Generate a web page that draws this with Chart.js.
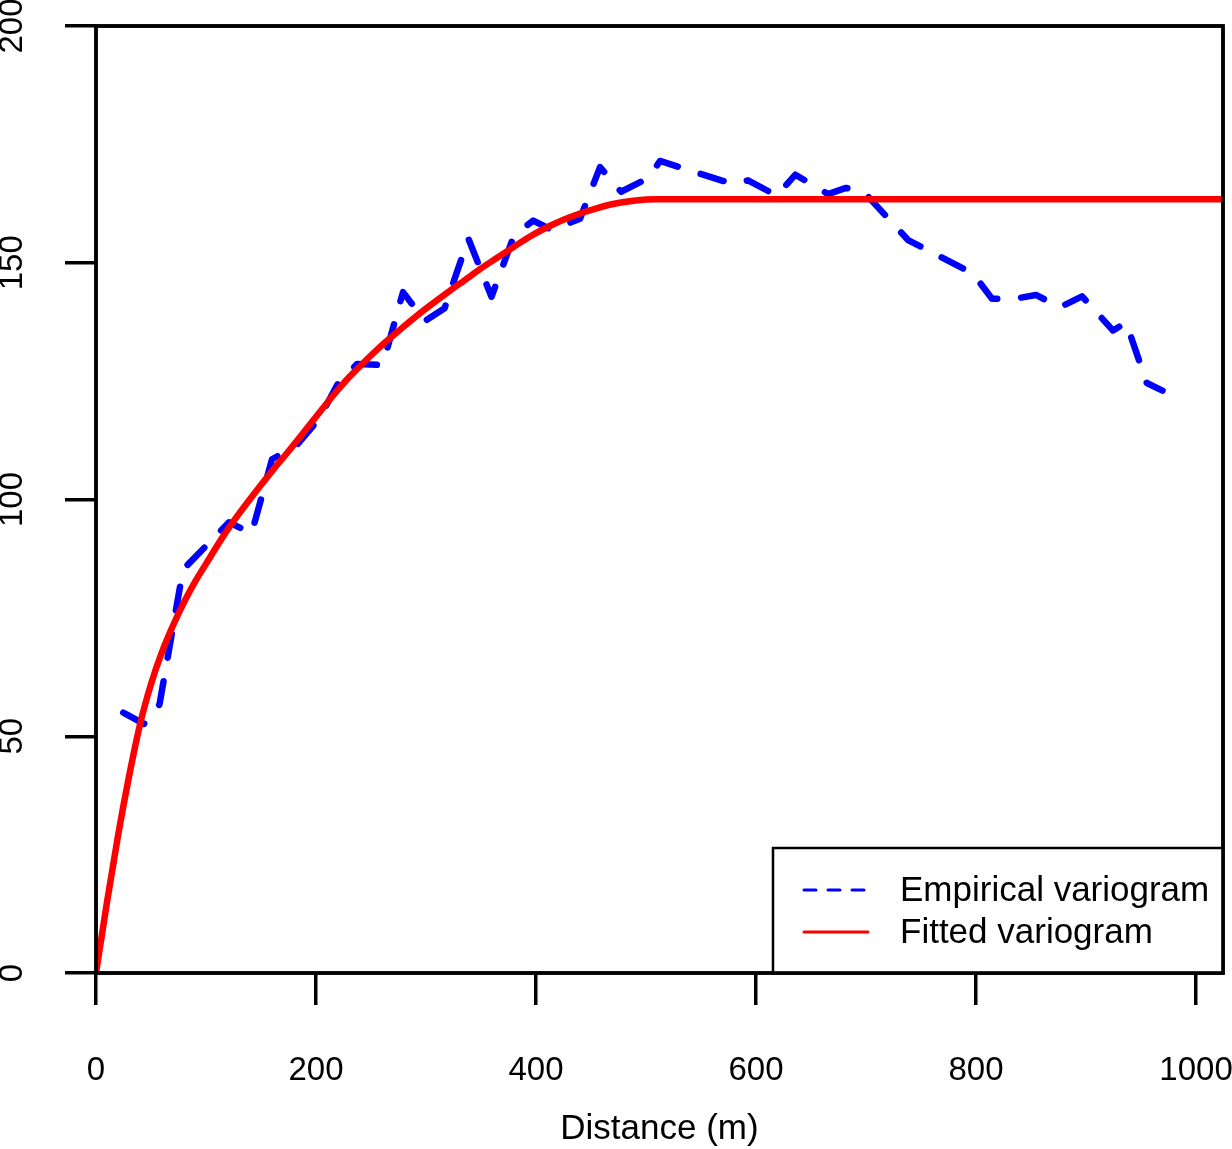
<!DOCTYPE html>
<html>
<head>
<meta charset="utf-8">
<script src="https://cdn.jsdelivr.net/npm/chart.js@4.4.1/dist/chart.umd.min.js"></script>
<style>
  html, body { margin: 0; padding: 0; background: #fff; }
  canvas { display: block; }
</style>
</head>
<body>
<canvas id="c" width="1232" height="1149"></canvas>
<script>
// ---- data ----
const empDist = [24.8, 43.6, 57.7, 79.1, 100.0, 120.9, 141.4, 160.0, 181.8, 202.7, 220.0, 237.3, 260.6, 279.1, 299.1, 316.9, 338.5, 359.5, 380.0, 397.5, 414.5, 440.0, 458.2, 477.3, 502.3, 512.7, 545.0, 578.2, 592.7, 618.8, 635.8, 665.5, 681.8, 698.2, 738.2, 768.0, 797.3, 814.5, 835.5, 854.5, 876.4, 896.4, 924.5, 936.4, 955.2, 969.5];
const empGamma = [55.0, 52.6, 56.7, 85.2, 90.2, 95.2, 92.8, 108.5, 111.3, 117.0, 124.5, 128.6, 128.4, 143.8, 137.7, 140.4, 155.1, 142.8, 155.8, 158.9, 156.9, 159.3, 170.2, 165.0, 167.9, 171.5, 169.1, 166.7, 167.4, 164.2, 168.6, 164.5, 165.8, 164.9, 154.8, 151.2, 147.7, 142.4, 142.4, 143.2, 140.6, 142.9, 135.7, 137.4, 124.6, 123.0];

const fitDist = [0, 10, 20, 30, 40, 50, 60, 70, 80, 90, 100, 115, 130, 145, 160, 175, 195, 215, 230, 245, 260, 275, 290, 305, 320, 335, 350, 365, 380, 395, 410, 425, 440, 455, 470, 485, 500, 510, 1025];
const fitGamma = [0, 15, 29, 41.5, 52.5, 61, 67.8, 73.4, 78.3, 82.6, 86.4, 92, 97, 101.6, 106, 110.2, 116, 121.8, 125.8, 129.3, 132.6, 135.6, 138.5, 141.2, 143.8, 146.3, 148.8, 151.1, 153.4, 155.6, 157.5, 159.1, 160.4, 161.5, 162.4, 163, 163.35, 163.4, 163.4];

const xTicks = [0, 200, 400, 600, 800, 1000];
const yTicks = [0, 50, 100, 150, 200];
const seriesLabels = ['Empirical variogram', 'Fitted variogram'];
const xTitle = 'Distance (m)';
const xRange = [0, 1024.5];
const yRange = [0, 200];

Chart.defaults.font.family = '"Liberation Sans", Arial, Helvetica, sans-serif';
Chart.defaults.color = '#000';

const framePlugin = {
  id: 'frameAndLegend',
  afterDraw(chart) {
    const ctx = chart.ctx;
    const a = chart.chartArea;
    ctx.save();
    ctx.setLineDash([]);
    ctx.strokeStyle = '#000';
    ctx.lineWidth = 3.5;
    ctx.strokeRect(a.left, a.top, a.right - a.left, a.bottom - a.top);

    // legend box in the bottom-right corner of the plot region
    const w = 450, h = 125;
    const lx = a.right - w, ly = a.bottom - h;
    ctx.fillStyle = '#fff';
    ctx.fillRect(lx, ly, w, h);
    ctx.lineWidth = 2.5;
    ctx.strokeRect(lx, ly, w, h);
    ctx.lineWidth = 3.5;
    ctx.strokeRect(a.left, a.top, a.right - a.left, a.bottom - a.top);

    chart.data.datasets.forEach((ds, i) => {
      const y = ly + 42 + i * 42;
      ctx.beginPath();
      ctx.strokeStyle = ds.borderColor;
      ctx.lineWidth = 3;
      ctx.lineCap = 'round';
      ctx.setLineDash(ds.borderDash && ds.borderDash.length ? [12, 12] : []);
      ctx.moveTo(lx + 31, y);
      ctx.lineTo(lx + 95, y);
      ctx.stroke();
      ctx.setLineDash([]);
      ctx.fillStyle = '#000';
      ctx.font = '35px "Liberation Sans", Arial, sans-serif';
      ctx.textAlign = 'left';
      ctx.textBaseline = 'middle';
      ctx.fillText(ds.label, lx + 127, y + 1);
    });
    ctx.restore();
  }
};

new Chart(document.getElementById('c'), {
  type: 'line',
  data: {
    datasets: [
      {
        label: seriesLabels[0],
        data: empDist.map((d, i) => ({ x: d, y: empGamma[i] })),
        borderColor: '#0000ff',
        borderWidth: 6.5,
        borderDash: [24, 24],
        borderCapStyle: 'round',
        borderJoinStyle: 'round',
        pointRadius: 0,
        tension: 0,
        fill: false,
        order: 1
      },
      {
        label: seriesLabels[1],
        data: fitDist.map((d, i) => ({ x: d, y: fitGamma[i] })),
        borderColor: '#ff0000',
        borderWidth: 6.5,
        borderCapStyle: 'round',
        borderJoinStyle: 'round',
        cubicInterpolationMode: 'monotone',
        pointRadius: 0,
        fill: false,
        order: 0
      }
    ]
  },
  options: {
    responsive: false,
    animation: false,
    devicePixelRatio: 1,
    layout: { padding: { left: 0, top: 26, right: 9, bottom: 0 } },
    plugins: { legend: { display: false }, tooltip: { enabled: false } },
    scales: {
      x: {
        type: 'linear',
        min: xRange[0],
        max: xRange[1],
        afterBuildTicks: (s) => { s.ticks = xTicks.map(v => ({ value: v })); },
        afterFit: (s) => { s.height = 176; s.paddingLeft = 0; s.paddingRight = 0; },
        grid: { drawOnChartArea: false, drawTicks: true, tickLength: 32, color: '#000', lineWidth: 3.5 },
        border: { display: false },
        ticks: {
          color: '#000', font: { size: 33, lineHeight: 1.2 }, padding: 46,
          maxRotation: 0, minRotation: 0, autoSkip: false,
          callback: (v) => String(v)
        },
        title: {
          display: true, text: xTitle, color: '#000',
          font: { size: 35, lineHeight: 1 }, padding: { top: 0, bottom: 2 }
        }
      },
      y: {
        type: 'linear',
        min: yRange[0],
        max: yRange[1],
        afterBuildTicks: (s) => { s.ticks = yTicks.map(v => ({ value: v })); },
        afterFit: (s) => { s.width = 96; s.paddingTop = 0; s.paddingBottom = 0; },
        grid: { drawOnChartArea: false, drawTicks: true, tickLength: 31, color: '#000', lineWidth: 3.5 },
        border: { display: false },
        ticks: {
          color: '#000', font: { size: 33, lineHeight: 1.2 }, padding: 25,
          minRotation: 90, maxRotation: 90, crossAlign: 'center', autoSkip: false,
          callback: (v) => String(v)
        }
      }
    }
  },
  plugins: [framePlugin]
});
</script>
</body>
</html>
